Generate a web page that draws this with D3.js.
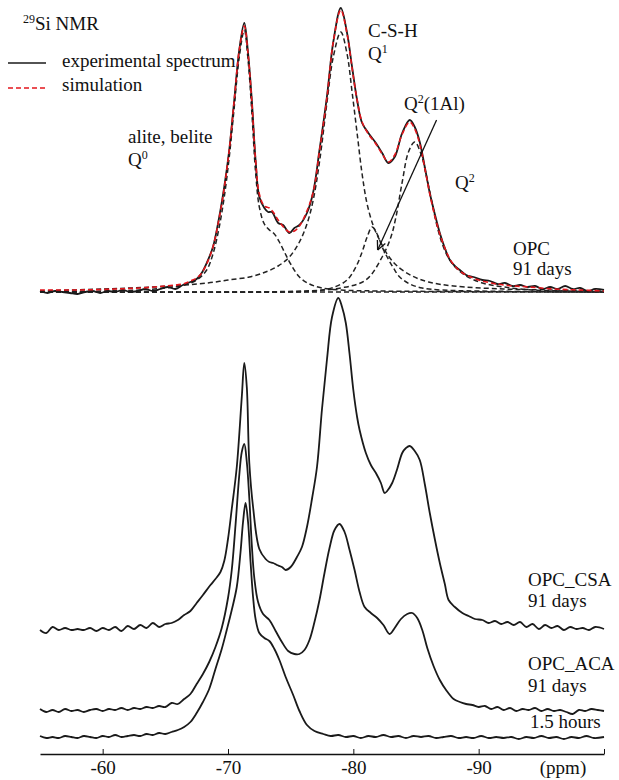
<!DOCTYPE html>
<html><head><meta charset="utf-8">
<script src="https://cdn.jsdelivr.net/npm/d3@7/dist/d3.min.js"></script>
<style>
html,body{margin:0;padding:0;background:#fff;}
svg{display:block;font-family:"Liberation Serif","Times New Roman",serif;}
</style></head>
<body>
<svg id="chart" width="619" height="780"></svg>
<script>
// ---- data: [ppm, intensity above each spectrum's own baseline] ----
const tickValues = [-60, -70, -80, -90, -100];
const tickLabels = ["-60", "-70", "-80", "-90", ""];
const baselineOffsets = [462, 125, 44, 17]; // OPC, OPC_CSA, OPC_ACA, 1.5 h
const seriesNames = ["OPC 91 days", "OPC_CSA 91 days", "OPC_ACA 91 days", "1.5 hours"];

const opcExperimental = [[-55,1],[-55.6,-1],[-56.2,1],[-56.8,0],[-57.4,-1],[-58,-2],[-58.6,0],[-59.2,1],[-59.8,-1],[-60.4,1],[-61,0],[-61.6,2],[-62.2,0],[-62.8,1],[-63.4,3],[-64,1],[-64.6,3],[-65.2,5],[-65.8,3],[-66.4,7],[-67,10],[-67.5,13],[-67.9,19],[-68.3,29],[-68.8,45],[-69.3,75],[-69.7,105],[-70.1,142],[-70.5,192],[-70.9,242],[-71.3,269],[-71.6,239],[-71.9,192],[-72.2,132],[-72.5,95],[-72.9,84],[-73.2,80],[-73.5,80],[-74,69],[-74.4,67],[-74.9,59],[-75.3,64],[-75.7,67],[-76.3,79],[-76.8,100],[-77.3,142],[-77.9,196],[-78.4,250],[-79,284],[-79.5,259],[-79.9,225],[-80.3,192],[-80.7,169],[-81.2,159],[-81.8,149],[-82.3,139],[-82.8,129],[-83.3,135],[-83.9,159],[-84.5,172],[-84.9,165],[-85.3,150],[-85.7,125],[-86.1,99],[-86.5,78],[-86.9,59],[-87.3,44],[-87.7,32],[-88.1,26],[-88.5,22],[-89,17],[-89.6,15],[-90.3,12],[-90.9,11],[-91.5,8],[-92.1,9],[-92.7,6],[-93.3,7],[-93.9,5],[-94.5,6],[-95.1,3],[-95.7,5],[-96.3,3],[-96.9,6],[-97.5,3],[-98.1,4],[-98.7,1],[-99.3,3],[-100,2]];

const opcSimulation = [[-55,2],[-58,2],[-61,3],[-63,4],[-65,6],[-66.4,8],[-67,11],[-67.5,14],[-67.9,19],[-68.3,28],[-68.8,45],[-69.3,74],[-69.7,104],[-70.1,142],[-70.5,192],[-70.9,242],[-71.3,266],[-71.6,238],[-71.9,190],[-72.2,132],[-72.5,98],[-72.9,86],[-73.3,84],[-73.6,80],[-74,72],[-74.5,64],[-74.9,60],[-75.3,61],[-75.7,66],[-76.2,78],[-76.8,100],[-77.3,141],[-77.9,195],[-78.4,250],[-79,282],[-79.5,258],[-79.9,224],[-80.3,192],[-80.7,170],[-81.2,158],[-81.8,148],[-82.3,138],[-82.8,130],[-83.3,137],[-83.9,158],[-84.5,170],[-84.9,163],[-85.3,148],[-85.7,124],[-86.1,98],[-86.5,76],[-86.9,58],[-87.3,44],[-87.7,33],[-88.1,26],[-88.5,21],[-89,17],[-90,12],[-91,9],[-92,7],[-94,5],[-96,3],[-98,2],[-100,1]];

const q0Component = [[-55,0],[-60,1],[-63,2],[-65,4],[-66.5,7],[-67.5,12],[-68.3,22],[-68.8,38],[-69.3,65],[-69.7,95],[-70.1,135],[-70.5,185],[-70.9,235],[-71.3,262],[-71.6,232],[-71.9,180],[-72.2,120],[-72.5,85],[-72.9,68],[-73.3,62],[-73.7,58],[-74.1,50],[-74.5,40],[-75,28],[-75.7,15],[-76.5,8],[-77.5,4],[-79,2],[-82,1],[-100,0]];
const q1Component = [[-55,1],[-60,3],[-64,5],[-66.5,7],[-68.4,9],[-70,12],[-71.7,15],[-73,20],[-74,26],[-74.9,35],[-75.7,50],[-76.3,68],[-76.8,92],[-77.3,130],[-77.9,190],[-78.4,235],[-79,260],[-79.5,238],[-79.9,200],[-80.3,159],[-80.7,118],[-81.1,88],[-81.6,66],[-82.1,52],[-82.8,36],[-83.5,26],[-84.7,16],[-86,10],[-88,6],[-92,3],[-96,2],[-100,1]];
const q2AlComponent = [[-55,0],[-75,0],[-77,1],[-78.5,5],[-79.5,12],[-80.2,25],[-80.7,40],[-81.1,55],[-81.5,65],[-81.9,58],[-82.3,45],[-82.7,35],[-83.2,24],[-83.7,15],[-84.5,8],[-85.5,4],[-87,2],[-90,1],[-100,0]];
const q2Component = [[-55,0],[-76,1],[-79,4],[-81,12],[-82.3,35],[-83,55],[-83.4,75],[-83.9,110],[-84.4,140],[-84.9,150],[-85.4,138],[-85.8,118],[-86.3,88],[-86.7,65],[-87.1,48],[-87.6,34],[-88.2,24],[-89,16],[-90.3,9],[-92,5],[-94.3,2],[-97,1],[-100,0]];
const flatComponent = [[-55,0],[-100,0]];

const csaSpectrum = [[-55,-1],[-55.5,-4],[-56,2],[-56.5,-1],[-57,1],[-57.5,-1],[-58,0],[-58.5,-1],[-59,1],[-59.5,-2],[-60,1],[-60.5,-1],[-61,2],[-61.5,-2],[-62,3],[-62.5,0],[-63,4],[-63.5,1],[-64,6],[-64.5,2],[-65,5],[-65.5,6],[-66,9],[-66.5,14],[-67,18],[-67.5,26],[-68,34],[-68.6,44],[-69,50],[-69.4,57],[-69.7,68],[-70,90],[-70.3,120],[-70.7,162],[-71.1,232],[-71.3,266],[-71.5,242],[-71.7,166],[-72,122],[-72.5,80],[-73,70],[-73.3,67],[-73.6,66],[-73.9,64],[-74.3,62],[-74.6,59],[-75,62],[-75.5,72],[-75.9,82],[-76.3,102],[-76.7,130],[-77.1,162],[-77.5,220],[-77.9,270],[-78.3,312],[-78.8,331],[-79.1,322],[-79.4,306],[-79.7,275],[-80,239],[-80.3,212],[-80.5,199],[-81,176],[-81.4,164],[-81.8,156],[-82.2,146],[-82.5,136],[-82.7,138],[-83.1,146],[-83.5,160],[-83.9,176],[-84.2,181],[-84.5,183],[-84.9,178],[-85.3,169],[-85.7,145],[-86.1,116],[-86.5,90],[-86.9,66],[-87.3,45],[-87.6,29],[-88.1,22],[-88.7,16],[-89.2,13],[-89.7,10],[-90.3,9],[-90.8,6],[-91.3,8],[-91.8,5],[-92.3,7],[-92.8,4],[-93.3,7],[-93.8,2],[-94.3,5],[-94.8,0],[-95.3,4],[-95.8,1],[-96.3,3],[-96.8,-1],[-97.3,2],[-97.8,0],[-98.3,1],[-98.8,-1],[-99.3,2],[-100,0]];

const acaSpectrum = [[-55,1],[-55.5,-2],[-56,0],[-56.5,-2],[-57,1],[-57.5,-1],[-58,0],[-58.5,-2],[-59,0],[-59.5,1],[-60,-1],[-60.5,1],[-61,0],[-61.5,2],[-62,0],[-62.5,2],[-63,1],[-63.5,3],[-64,2],[-64.5,4],[-65,3],[-65.5,7],[-66,6],[-66.5,11],[-67,16],[-67.5,26],[-68,36],[-68.5,48],[-69,63],[-69.5,82],[-70,112],[-70.3,140],[-70.6,185],[-70.9,235],[-71.1,258],[-71.3,266],[-71.5,248],[-71.7,212],[-71.9,165],[-72.1,132],[-72.4,108],[-72.8,96],[-73.3,90],[-73.8,79],[-74.3,68],[-74.8,59],[-75.3,56],[-75.7,56],[-76.1,60],[-76.5,70],[-76.9,88],[-77.3,110],[-77.7,137],[-78.1,162],[-78.5,180],[-78.9,186],[-79.3,178],[-79.7,160],[-80.1,140],[-80.5,118],[-80.9,103],[-81.4,97],[-81.9,92],[-82.4,85],[-82.9,76],[-83.3,82],[-83.8,91],[-84.3,96],[-84.7,97],[-85.1,92],[-85.5,80],[-85.9,62],[-86.4,44],[-86.9,30],[-87.4,20],[-88,11],[-88.5,8],[-89,6],[-89.5,5],[-90,3],[-90.5,4],[-91,1],[-91.5,3],[-92,0],[-92.5,2],[-93,-1],[-93.5,1],[-94,0],[-94.5,2],[-95,-1],[-95.5,1],[-96,-1],[-96.5,0],[-97,-2],[-97.5,-4],[-98,0],[-98.5,-1],[-99,1],[-99.5,0],[-100,-1]];

const hours15Spectrum = [[-55,1],[-55.5,-1],[-56,0],[-56.5,-1],[-57,1],[-57.5,0],[-58,-1],[-58.5,1],[-59,0],[-59.5,-1],[-60,1],[-60.5,0],[-61,2],[-61.5,0],[-62,1],[-62.5,2],[-63,1],[-63.5,3],[-64,2],[-64.5,4],[-65,3],[-65.5,5],[-66,7],[-66.5,10],[-67,15],[-67.5,24],[-68,35],[-68.5,48],[-69,68],[-69.5,88],[-69.9,107],[-70.3,127],[-70.7,150],[-71,185],[-71.2,215],[-71.4,234],[-71.6,215],[-71.8,175],[-72,140],[-72.2,118],[-72.5,104],[-72.9,99],[-73.3,96],[-73.7,88],[-74.1,77],[-74.6,60],[-75.2,42],[-75.7,26],[-76.3,12],[-76.9,6],[-77.6,3],[-78.2,1],[-78.8,2],[-79.4,0],[-80,1],[-80.6,-1],[-81.2,1],[-81.8,0],[-82.4,2],[-83,0],[-83.6,1],[-84.2,-1],[-84.8,1],[-85.4,0],[-86,1],[-86.6,-1],[-87.2,0],[-87.8,1],[-88.4,-1],[-89,0],[-89.6,-1],[-90.2,1],[-90.8,-1],[-91.4,0],[-92,-1],[-92.6,0],[-93.2,-2],[-93.8,0],[-94.4,-1],[-95,1],[-95.6,-1],[-96.2,0],[-96.8,-2],[-97.4,0],[-98,-1],[-98.6,1],[-99.2,-1],[-100,0]];

// annotation arrow (ppm, absolute intensity)
const arrowFrom = [-86.64, 634];
const arrowTo = [-81.94, 504];

// ---- drawing ----
const svg = d3.select("#chart");
const x = d3.scaleLinear().domain([-55, -100]).range([40, 604]);
const y = d3.scaleLinear().domain([0, 750]).range([754, 4]);

const lineGen = off => d3.line()
  .x(d => x(d[0])).y(d => y(d[1] + off))
  .curve(d3.curveCatmullRom.alpha(0.5));

const g = svg.append("g");

// component curves (dashed black)
[flatComponent, q0Component, q1Component, q2AlComponent, q2Component].forEach(c => {
  g.append("path").attr("d", lineGen(baselineOffsets[0])(c))
    .attr("fill", "none").attr("stroke", "#222").attr("stroke-width", 1.5)
    .attr("stroke-dasharray", "5,3");
});

// experimental spectra
const expSeries = [opcExperimental, csaSpectrum, acaSpectrum, hours15Spectrum];
expSeries.forEach((s, i) => {
  g.append("path").attr("d", lineGen(baselineOffsets[i])(s))
    .attr("fill", "none").attr("stroke", "#1a1a1a").attr("stroke-width", 1.8)
    .attr("stroke-linejoin", "round");
});

// simulation (red dashed) on top
g.append("path").attr("d", lineGen(baselineOffsets[0])(opcSimulation))
  .attr("fill", "none").attr("stroke", "#e3161c").attr("stroke-width", 1.6)
  .attr("stroke-dasharray", "5,3");

// arrow
const ax1 = x(arrowFrom[0]), ay1 = y(arrowFrom[1]), ax2 = x(arrowTo[0]), ay2 = y(arrowTo[1]);
g.append("line").attr("x1", ax1).attr("y1", ay1).attr("x2", ax2).attr("y2", ay2)
  .attr("stroke", "#111").attr("stroke-width", 1.3);
const ang = Math.atan2(ay2 - ay1, ax2 - ax1);
[0.45, -0.45].forEach(da => {
  g.append("line").attr("x1", ax2).attr("y1", ay2)
    .attr("x2", ax2 - 10 * Math.cos(ang + da)).attr("y2", ay2 - 10 * Math.sin(ang + da))
    .attr("stroke", "#111").attr("stroke-width", 1.3);
});

// axis
const axis = d3.axisBottom(x).tickValues(tickValues)
  .tickFormat((d, i) => tickLabels[i]).tickSize(-5).tickSizeOuter(0).tickPadding(7);
const axG = svg.append("g").attr("transform", "translate(0,754)").call(axis);
axG.select(".domain").attr("stroke", "#111").attr("stroke-width", 1.5);
axG.selectAll(".tick line").attr("stroke", "#111").attr("stroke-width", 1);
axG.selectAll(".tick text").attr("font-family", "Liberation Serif, serif").attr("font-size", 19).attr("fill", "#111");
svg.append("text").attr("x", 563).attr("y", 774).attr("text-anchor", "middle")
  .attr("font-size", 19).attr("fill", "#111").text("(ppm)");

// text helper with superscript
function label(xp, yp, main, sup, rest) {
  const t = svg.append("text").attr("x", xp).attr("y", yp).attr("font-size", 19).attr("fill", "#111");
  t.append("tspan").text(main);
  if (sup !== undefined) {
    t.append("tspan").attr("font-size", 12).attr("dy", -7).text(sup);
    if (rest !== undefined) t.append("tspan").attr("dy", 7).text(rest);
  }
  return t;
}
// title
const tt = svg.append("text").attr("x", 23).attr("y", 30).attr("fill", "#111");
tt.append("tspan").attr("font-size", 12).attr("dy", -7).text("29");
tt.append("tspan").attr("font-size", 19).attr("dy", 7).text("Si NMR");

// legend
svg.append("line").attr("x1", 8).attr("x2", 46).attr("y1", 63).attr("y2", 63)
  .attr("stroke", "#1a1a1a").attr("stroke-width", 1.7);
svg.append("line").attr("x1", 8).attr("x2", 46).attr("y1", 88).attr("y2", 88)
  .attr("stroke", "#e3161c").attr("stroke-width", 1.6).attr("stroke-dasharray", "5,3");
label(62, 67, "experimental spectrum");
label(62, 91, "simulation");

// peak labels
label(128, 143, "alite, belite");
label(128, 166, "Q", "0");
label(368, 37, "C-S-H");
label(368, 60, "Q", "1");
label(404, 110, "Q", "2", "(1Al)");
label(455, 189, "Q", "2");

// series labels
label(513, 255, "OPC");
label(513, 275, "91 days");
label(528, 586, "OPC_CSA");
label(528, 607, "91 days");
label(528, 670, "OPC_ACA");
label(528, 692, "91 days");
label(530, 728, "1.5 hours");
</script>
</body></html>
